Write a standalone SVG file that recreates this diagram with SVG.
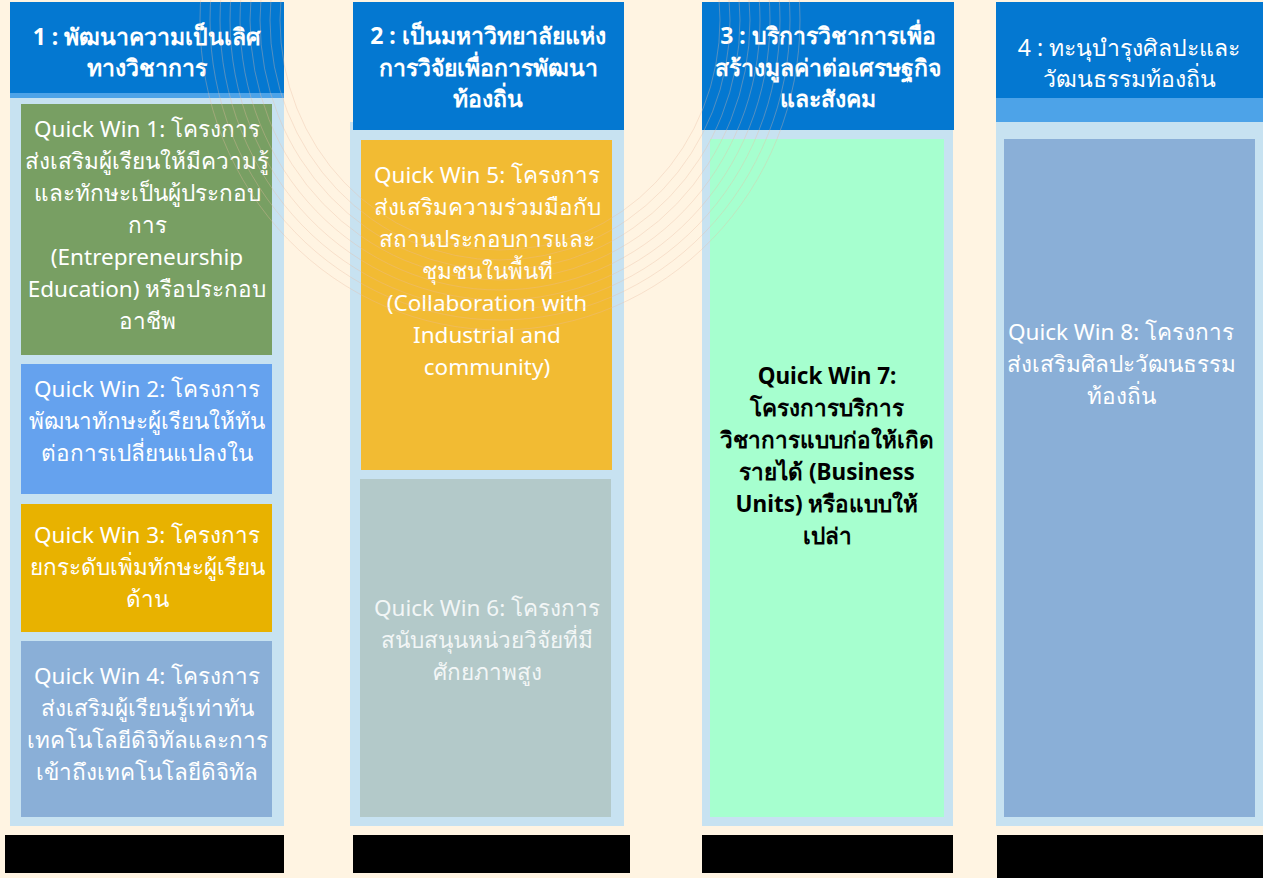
<svg xmlns="http://www.w3.org/2000/svg" width="1263" height="878" viewBox="0 0 1263 878">
  <style>
    .hdr { fill: #0478D1; }
    .strip { fill: #4DA3E8; }
    .panel { fill: #C7E2F1; }
    .bar { fill: #000000; }
    .ht { font-family: "Noto Sans", "Liberation Sans", sans-serif; font-size: 23px; font-weight: 700; fill: #FFFFFF; text-anchor: middle; }
    .ht4 { font-family: "Noto Sans", "Liberation Sans", sans-serif; font-size: 23px; font-weight: 400; fill: #FFFFFF; text-anchor: middle; }
    .qt { font-family: "Noto Sans", "Liberation Sans", sans-serif; font-size: 22.5px; font-weight: 400; fill: #FFFFFF; text-anchor: middle; }
    .qt6 { font-family: "Noto Sans", "Liberation Sans", sans-serif; font-size: 22.5px; font-weight: 400; fill: #F2F6F6; text-anchor: middle; }
    .qt7 { font-family: "Noto Sans", "Liberation Sans", sans-serif; font-size: 22.5px; font-weight: 700; fill: #000000; text-anchor: middle; }
    .arc { fill: none; stroke: #E9B9A0; stroke-width: 1; opacity: 0.35; }
  </style>
  <rect x="0" y="0" width="1263" height="878" fill="#FFF4E2"/>

  <g id="col1">
    <rect class="panel" x="10" y="98" width="274" height="728"/>
    <rect class="hdr" x="10" y="2" width="274" height="91"/>
    <rect class="strip" x="10" y="93" width="274" height="5"/>
    <text class="ht" x="147" y="45">1 : พัฒนาความเป็นเลิศ</text>
    <text class="ht" x="147" y="76">ทางวิชาการ</text>
  </g>
  <g id="qw1">
    <rect x="21" y="104" width="251" height="251" fill="#789F63"/>
    <text class="qt" x="147"><tspan x="147" y="137">Quick Win 1: โครงการ</tspan><tspan x="147" y="169">ส่งเสริมผู้เรียนให้มีความรู้</tspan><tspan x="147" y="201">และทักษะเป็นผู้ประกอบ</tspan><tspan x="147" y="233">การ</tspan><tspan x="147" y="265">(Entrepreneurship</tspan><tspan x="147" y="297">Education) หรือประกอบ</tspan><tspan x="147" y="329">อาชีพ</tspan></text>
  </g>
  <g id="qw2">
    <rect x="21" y="364" width="251" height="130" fill="#65A2EE"/>
    <text class="qt" x="147"><tspan x="147" y="397">Quick Win 2: โครงการ</tspan><tspan x="147" y="429">พัฒนาทักษะผู้เรียนให้ทัน</tspan><tspan x="147" y="461">ต่อการเปลี่ยนแปลงใน</tspan></text>
  </g>
  <g id="qw3">
    <rect x="21" y="504" width="251" height="128" fill="#E8B200"/>
    <text class="qt" x="147"><tspan x="147" y="543">Quick Win 3: โครงการ</tspan><tspan x="147" y="575">ยกระดับเพิ่มทักษะผู้เรียน</tspan><tspan x="147" y="607">ด้าน</tspan></text>
  </g>
  <g id="qw4">
    <rect x="21" y="641" width="251" height="176" fill="#8AAFD7"/>
    <text class="qt" x="147"><tspan x="147" y="684">Quick Win 4: โครงการ</tspan><tspan x="147" y="716">ส่งเสริมผู้เรียนรู้เท่าทัน</tspan><tspan x="147" y="748">เทคโนโลยีดิจิทัลและการ</tspan><tspan x="147" y="780">เข้าถึงเทคโนโลยีดิจิทัล</tspan></text>
  </g>

  <g id="col2">
    <rect class="panel" x="350" y="122" width="274" height="704"/>
    <rect class="hdr" x="353" y="2" width="271" height="128"/>
    <text class="ht" x="488" y="44">2 : เป็นมหาวิทยาลัยแห่ง</text>
    <text class="ht" x="488" y="76">การวิจัยเพื่อการพัฒนา</text>
    <text class="ht" x="488" y="107">ท้องถิ่น</text>
  </g>
  <g id="qw5">
    <rect x="361" y="140" width="251" height="330" fill="#F2BB33"/>
    <text class="qt" x="487"><tspan x="487" y="183">Quick Win 5: โครงการ</tspan><tspan x="487" y="215">ส่งเสริมความร่วมมือกับ</tspan><tspan x="487" y="247">สถานประกอบการและ</tspan><tspan x="487" y="279">ชุมชนในพื้นที่</tspan><tspan x="487" y="311">(Collaboration with</tspan><tspan x="487" y="343">Industrial and</tspan><tspan x="487" y="375">community)</tspan></text>
  </g>
  <g id="qw6">
    <rect x="360" y="479" width="251" height="338" fill="#B3C9C9"/>
    <text class="qt6" x="487"><tspan x="487" y="616">Quick Win 6: โครงการ</tspan><tspan x="487" y="648">สนับสนุนหน่วยวิจัยที่มี</tspan><tspan x="487" y="680">ศักยภาพสูง</tspan></text>
  </g>

  <g id="col3">
    <rect class="panel" x="702" y="130" width="251" height="696"/>
    <rect class="hdr" x="702" y="2" width="252" height="128"/>
    <text class="ht" x="828" y="44">3 : บริการวิชาการเพื่อ</text>
    <text class="ht" x="828" y="76">สร้างมูลค่าต่อเศรษฐกิจ</text>
    <text class="ht" x="828" y="107">และสังคม</text>
  </g>
  <g id="qw7">
    <rect x="710" y="139" width="234" height="678" fill="#A6FFCF"/>
    <text class="qt7" x="827"><tspan x="827" y="384">Quick Win 7:</tspan><tspan x="827" y="416">โครงการบริการ</tspan><tspan x="827" y="448">วิชาการแบบก่อให้เกิด</tspan><tspan x="827" y="480">รายได้ (Business</tspan><tspan x="827" y="512">Units) หรือแบบให้</tspan><tspan x="827" y="544">เปล่า</tspan></text>
  </g>

  <g id="col4">
    <rect class="panel" x="996" y="122" width="267" height="704"/>
    <rect class="hdr" x="996" y="2" width="267" height="96"/>
    <rect class="strip" x="996" y="98" width="267" height="24"/>
    <text class="ht4" x="1129" y="56">4 : ทะนุบำรุงศิลปะและ</text>
    <text class="ht4" x="1129" y="87">วัฒนธรรมท้องถิ่น</text>
  </g>
  <g id="qw8">
    <rect x="1004" y="139" width="251" height="678" fill="#8AAFD7"/>
    <text class="qt" x="1121"><tspan x="1121" y="340">Quick Win 8: โครงการ</tspan><tspan x="1121" y="372">ส่งเสริมศิลปะวัฒนธรรม</tspan><tspan x="1121" y="404">ท้องถิ่น</tspan></text>
  </g>

  <g id="bars">
    <rect class="bar" x="5" y="835" width="279" height="38"/>
    <rect class="bar" x="353" y="835" width="277" height="38"/>
    <rect class="bar" x="702" y="835" width="251" height="38"/>
    <rect class="bar" x="997" y="835" width="266" height="43"/>
  </g>

  <g id="decor">
    <ellipse class="arc" cx="500" cy="20" rx="220" ry="230"/>
    <ellipse class="arc" cx="500" cy="20" rx="230" ry="240"/>
    <ellipse class="arc" cx="500" cy="20" rx="240" ry="250"/>
    <ellipse class="arc" cx="500" cy="20" rx="250" ry="260"/>
    <ellipse class="arc" cx="500" cy="20" rx="260" ry="270"/>
    <ellipse class="arc" cx="500" cy="20" rx="270" ry="280"/>
    <ellipse class="arc" cx="500" cy="20" rx="280" ry="290"/>
    <ellipse class="arc" cx="500" cy="20" rx="290" ry="300"/>
    <ellipse class="arc" cx="500" cy="20" rx="300" ry="310"/>
  </g>
</svg>
